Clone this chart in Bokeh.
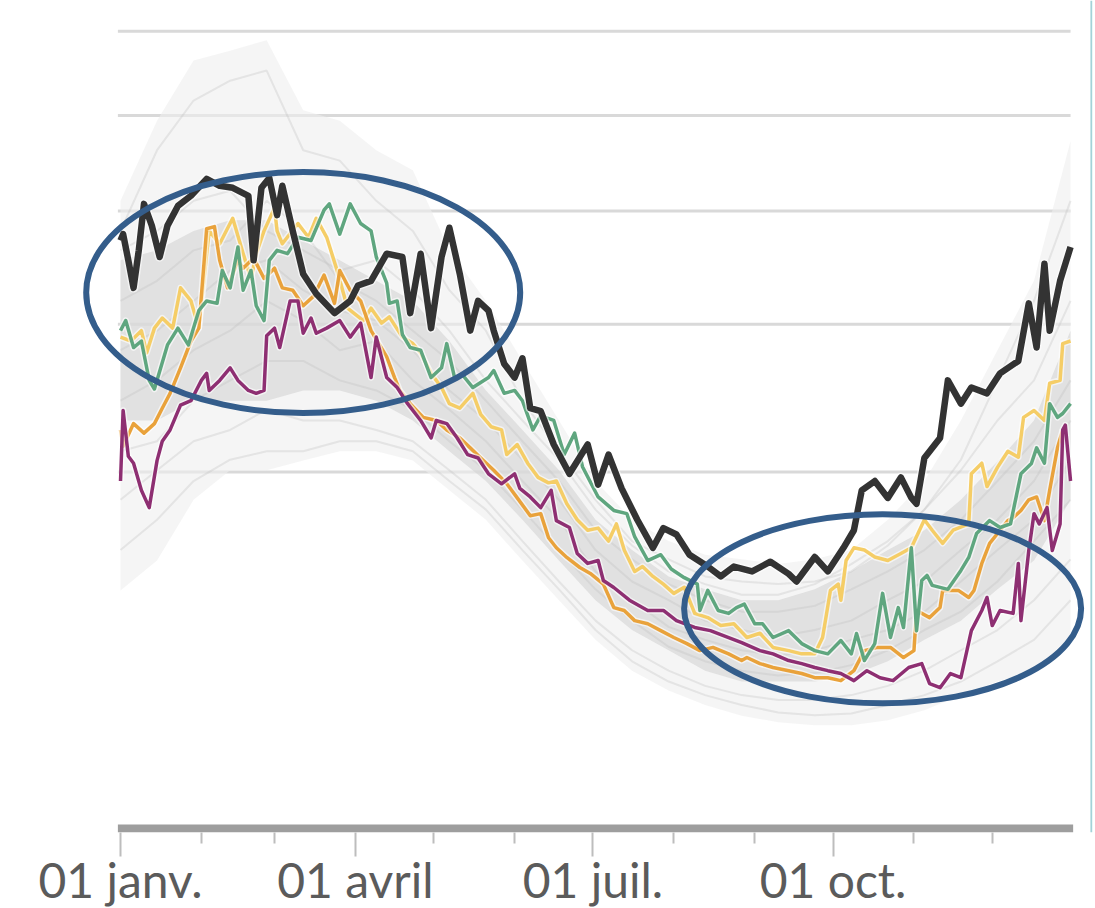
import numpy as np
import pandas as pd
from bokeh.plotting import figure
from bokeh.models import Range1d, FixedTicker, CustomJSTickFormatter, Span
from bokeh.embed import file_html
from bokeh.resources import INLINE

# ---------------- data ----------------
year_start = "2021-01-01"
major_tick_dates = ["2021-01-01", "2021-04-01", "2021-07-01", "2021-10-01"]
minor_tick_dates = ["2021-02-01", "2021-03-01", "2021-05-01", "2021-06-01",
                    "2021-08-01", "2021-09-01", "2021-11-01", "2021-12-01"]
tick_labels = ["01 janv.", "01 avril", "01 juil.", "01 oct."]
grid_values = [100, 200, 300, 400, 500]

black_days = [0, 1, 3, 5, 7, 9, 12, 15, 18, 22, 27, 33, 38, 43, 49, 51, 54, 57, 60, 62,
              66, 70, 75, 82, 88, 91, 96, 102, 108, 111, 115, 119, 123, 126, 130, 134, 137, 141, 143, 147,
              151, 154, 157, 161, 166, 172, 179, 183, 187, 192, 198, 204, 208, 213, 218, 225, 230, 235, 242, 249,
              256, 259, 266, 271, 277, 281, 284, 289, 294, 299, 303, 305, 308, 314, 317, 322, 326, 332, 337, 344,
              348, 351, 354, 356, 360, 364]
black_vals = [272, 278, 254, 230, 263, 307, 286, 257, 286, 305, 315, 332, 325, 323, 315, 254, 323, 333, 296, 325,
              281, 242, 225, 209, 219, 232, 236, 260, 257, 209, 260, 197, 257, 284, 242, 195, 219, 211, 195, 170,
              160, 174, 139, 137, 116, 99, 116, 93, 110, 91, 75, 62, 71, 68, 59, 54, 50, 54, 52, 56,
              51, 48, 58, 52, 62, 70, 90, 95, 86, 97, 86, 83, 108, 120, 158, 142, 153, 149, 163, 172,
              217, 182, 251, 195, 236, 266]

green_days = [0, 2, 5, 8, 11, 13, 18, 22, 26, 30, 33, 37, 39, 42, 45, 47, 50, 52, 55, 57,
              60, 64, 68, 73, 78, 80, 84, 88, 92, 96, 98, 102, 103, 106, 108, 111, 115, 119, 123, 125,
              128, 131, 135, 141, 143, 147, 151, 154, 158, 161, 166, 170, 174, 177, 183, 189, 194, 197, 202, 207,
              211, 216, 221, 222, 225, 229, 233, 236, 239, 243, 246, 250, 256, 261, 266, 271, 276, 280, 282, 285,
              289, 292, 295, 298, 300, 303, 305, 307, 309, 311, 317, 322, 325, 328, 333, 337, 341, 345, 349, 351,
              354, 356, 359, 361, 364]
green_vals = [195, 203, 182, 187, 158, 152, 184, 197, 184, 211, 219, 217, 245, 230, 266, 228, 245, 215, 203, 254,
              263, 260, 275, 272, 301, 307, 278, 307, 288, 281, 257, 234, 217, 219, 192, 182, 180, 160, 167, 185,
              160, 162, 153, 160, 165, 149, 151, 144, 125, 134, 131, 110, 123, 103, 86.5, 79.6, 78, 67, 56.5, 59,
              53, 49.5, 47, 37.4, 44.6, 37.4, 36.4, 38.4, 39.6, 33, 33, 28.7, 30.8, 26.9, 24.9, 24, 27.8, 24, 29.9, 22.2,
              26.9, 43.5, 28.7, 38.4, 31.8, 62, 30.8, 48.4, 50.4, 46.5, 45, 52.4, 57.8, 68.5, 74.6, 71.3, 73, 99, 104.8, 114,
              105, 142, 133, 135.5, 142]

yellow_days = [0, 4, 8, 10, 13, 16, 20, 23, 27, 30, 33, 34, 38, 43, 47, 50, 52, 55, 59, 60,
               62, 68, 72, 75, 79, 83, 87, 93, 96, 100, 103, 108, 112, 115, 119, 123, 126, 130, 135, 138,
               142, 146, 148, 152, 156, 160, 164, 167, 171, 175, 179, 183, 187, 190, 193, 197, 200, 204, 208, 212,
               216, 220, 225, 230, 235, 240, 245, 250, 256, 261, 266, 269, 272, 275, 276, 278, 281, 285, 289, 294,
               299, 303, 308, 311, 315, 319, 325, 326, 330, 332, 336, 340, 344, 346, 350, 354, 356, 360, 361, 364]
yellow_vals = [190, 187, 195, 178, 197, 205, 197, 230, 219, 197, 260, 281, 269, 293, 260, 238, 260, 281, 303, 281,
               269, 288, 275, 293, 275, 245, 213, 203, 213, 201, 206, 190, 185, 178, 163, 153, 142, 139, 149, 135,
               127, 125, 110, 116, 105, 97, 94, 95, 83, 75, 70, 71, 65, 73, 61, 52, 54, 50, 47, 43.5,
               45.8, 36.4, 35, 32.4, 33, 28.7, 30, 25.8, 24.9, 24, 24, 28.7, 44.6, 47, 41, 56.5, 62, 61, 58, 56.5,
               59.5, 62, 75, 70, 64, 70, 73, 99, 105, 92, 102.6, 112, 108.5, 133, 137.5, 131, 156, 158, 185, 187]

orange_days = [0, 1, 5, 9, 13, 16, 19, 23, 27, 30, 32, 33, 36, 38, 41, 45, 47, 51, 55, 59,
               62, 66, 70, 74, 78, 82, 84, 88, 92, 96, 102, 105, 107, 111, 116, 121, 125, 130, 134, 138,
               143, 148, 152, 157, 161, 164, 167, 171, 176, 180, 185, 189, 193, 197, 202, 207, 212, 217, 222, 227,
               233, 238, 240, 245, 250, 256, 261, 266, 271, 276, 281, 285, 290, 295, 300, 304, 305, 310, 314, 315,
               321, 325, 327, 330, 333, 337, 340, 342, 345, 348, 351, 354, 356, 359, 361]
orange_vals = [125, 115, 129, 123, 129, 139, 149, 167, 187, 197, 252, 283, 285, 254, 230, 254, 247, 256, 238, 247,
               230, 228, 215, 223, 241, 217, 245, 228, 219, 195, 175, 160, 151, 142, 133, 131, 125, 120, 114, 108,
               101, 93.5, 86, 77, 78, 66.5, 62, 57.8, 53.6, 51.2, 47, 38.4, 37.4, 34, 33, 30.8, 28.7, 26.9, 24.9, 25.8,
               24, 22.2, 23, 21.4, 20.4, 19.6, 18.9, 17.9, 17.9, 17.2, 19.6, 24.9, 25.8, 25.8, 23, 24.9, 37.4, 35, 38.4, 44.6,
               44.6, 42, 44.6, 55.3, 64, 70, 74.6, 76, 79.6, 85, 86.5, 74.6, 90, 114, 125]

purple_days = [0, 1, 3, 5, 8, 11, 14, 16, 19, 23, 27, 31, 33, 34, 38, 42, 45, 49, 52, 55,
               56, 59, 61, 65, 68, 70, 73, 75, 79, 84, 88, 92, 96, 98, 102, 106, 110, 115, 119, 121,
               125, 129, 133, 137, 141, 146, 151, 153, 157, 161, 165, 167, 172, 175, 179, 183, 185, 189, 195, 202,
               208, 213, 220, 226, 233, 238, 245, 250, 256, 261, 266, 271, 276, 281, 286, 291, 296, 302, 307, 310,
               314, 318, 322, 326, 330, 332, 334, 337, 342, 344, 345, 348, 350, 352, 355, 357, 360, 361, 362, 364]
purple_vals = [95, 137.5, 109, 105, 90, 81, 106.5, 118, 125, 141, 144, 158, 163, 151, 158, 167, 158, 151, 149, 151,
               191, 197, 182, 219, 219, 193, 205, 193, 197, 203, 190, 201, 160, 190, 160, 153, 142, 131, 120, 131,
               129, 120, 110, 108, 99, 93.5, 99, 91, 86.5, 81, 90, 74.6, 71.3, 59.5, 55.3, 56.5, 48.4, 45.7, 41, 37.4,
               37.4, 34, 31.8, 30.8, 28.7, 27.2, 24.9, 24, 22.2, 21.4, 20.4, 19.6, 18.9, 17.2, 19.6, 17.9, 17.2, 20.4, 21.4, 16.5,
               15.6, 18.9, 17.9, 30.8, 37.4, 42, 32.4, 37.4, 36.4, 55.3, 34, 60.8, 78, 73, 81, 60.8, 73, 125, 128, 95]

# other years (grey spaghetti), sampled every two weeks
gray_days = [0, 14, 28, 42, 56, 70, 84, 98, 112, 126, 140, 154, 168, 182,
             196, 210, 224, 238, 252, 266, 280, 294, 308, 322, 336, 350, 364]
gray_env_high = [310, 394, 464, 476, 489, 406, 394, 362, 341, 263, 219, 172, 131, 95,
                 75, 65, 59, 57, 55, 57, 61, 75, 95, 131, 180, 236, 372]
gray_env_low = [44.6, 56.5, 85, 101, 101, 106.5, 112, 112, 106.5, 90, 75, 56.5, 41, 28,
                19.6, 15, 12, 10, 8.9, 8.4, 8.4, 9.2, 11, 14, 17, 19.6, 28]
gray_core_high = [254, 263, 281, 291, 291, 272, 254, 236, 219, 187, 151, 125, 101, 75,
                  61, 50, 45, 41, 41, 45, 52, 61, 70, 85, 106, 131, 195]
gray_core_low = [131, 131, 144, 144, 144, 151, 151, 144, 131, 112, 95, 75, 56.5, 41,
                 31, 25, 19.6, 17, 17, 17, 18.4, 22, 28, 34, 45, 56.5, 85]
gray_run_1 = [263, 281, 310, 320, 281, 263, 245, 254, 228, 195, 158, 131, 107, 80,
              63, 52, 47, 43, 43, 47, 55, 65, 80, 101, 131, 158, 219]
gray_run_2 = [219, 236, 263, 272, 310, 281, 236, 219, 195, 172, 144, 118, 95, 70,
              57, 47, 41, 37, 37, 39, 45, 52, 61, 75, 95, 118, 158]
gray_run_3 = [180, 195, 219, 245, 254, 228, 211, 203, 180, 151, 131, 107, 85, 61,
              48, 41, 34, 31, 29, 31, 34, 41, 48, 61, 75, 95, 131]
gray_run_4 = [144, 158, 180, 195, 219, 203, 180, 187, 158, 138, 118, 95, 75, 52,
              41, 32, 28, 25, 23.5, 25, 28, 31, 37, 48, 61, 75, 107]
gray_run_5 = [112, 118, 144, 158, 172, 172, 158, 151, 138, 118, 101, 80, 61, 45,
              34, 26, 22, 19.6, 18.4, 19, 21, 25, 31, 37, 48, 65, 85]
gray_run_6 = [85, 101, 118, 125, 138, 131, 131, 125, 118, 101, 85, 65, 48, 34,
              25, 19.6, 16, 14, 13, 13, 14, 16, 19.6, 25, 31, 41, 57]
gray_run_7 = [281, 362, 417, 440, 452, 362, 351, 310, 281, 228, 195, 144, 112, 85,
              65, 57, 50, 48, 47, 48, 52, 63, 80, 107, 158, 219, 310]
gray_run_8 = [61, 75, 95, 107, 112, 112, 118, 118, 112, 95, 80, 61, 45, 31,
              22, 17, 14, 12, 10.6, 10.1, 10.4, 12, 14, 17, 22, 28, 41]

highlight_dates = ["2021-03-12", "2021-10-20"]
highlight_values = [226, 38]

# ---------------- helpers ----------------
t0 = pd.Timestamp(year_start)


def xs(days):
    return [t0 + pd.Timedelta(days=float(d)) for d in days]


def ys(vals):
    return np.sqrt(np.asarray(vals, dtype=float))  # square-root value scale


def ms(ts):
    return float(pd.Timestamp(ts).value // 10**6)


PX_PER_DAY = 2.61
FRAME_W, FRAME_H = 1017, 832
LEFT, TOP = 75, 0
x_start = t0 - pd.Timedelta(days=45 / PX_PER_DAY)
x_end = x_start + pd.Timedelta(days=FRAME_W / PX_PER_DAY)
PX_PER_ROOT = 35.65
y_start = -4 / PX_PER_ROOT
y_end = 828 / PX_PER_ROOT

p = figure(frame_width=FRAME_W, frame_height=FRAME_H,
           x_axis_type="datetime", y_axis_location=None,
           x_range=Range1d(x_start, x_end), y_range=Range1d(y_start, y_end),
           output_backend="svg", toolbar_location=None,
           min_border_left=LEFT, min_border_right=3, min_border_top=TOP, min_border_bottom=76)
p.outline_line_color = None
p.grid.visible = False
p.background_fill_color = "white"
p.border_fill_color = "white"

# horizontal guide lines
first_day = t0 - pd.Timedelta(days=1)
last_day = t0 + pd.Timedelta(days=364)
p.segment(x0=[first_day] * len(grid_values), x1=[last_day] * len(grid_values),
          y0=ys(grid_values), y1=ys(grid_values), line_color="#d9d9d9", line_width=3)

# grey spaghetti of other years
gx = xs(gray_days)
p.varea(x=gx, y1=ys(gray_env_low), y2=ys(gray_env_high), fill_color="#efefef", fill_alpha=0.6)
p.varea(x=gx, y1=ys(gray_core_low), y2=ys(gray_core_high), fill_color="#cfcfcf", fill_alpha=0.55)
for run in [gray_run_1, gray_run_2, gray_run_3, gray_run_4, gray_run_5, gray_run_6, gray_run_7, gray_run_8]:
    p.line(gx, ys(run), line_color="#bdbdbd", line_alpha=0.3, line_width=2)

# highlighted years
series = [
    (yellow_days, yellow_vals, "#f5cd66", 3.5),
    (orange_days, orange_vals, "#e9a23b", 3.5),
    (purple_days, purple_vals, "#8e2f72", 3.5),
    (green_days, green_vals, "#5fa67f", 3.5),
    (black_days, black_vals, "#333333", 6.5),
]
for d, v, c, w in series:
    p.line(xs(d), ys(v), line_color="white", line_alpha=0.6, line_width=w + 3, line_join="round")
    p.line(xs(d), ys(v), line_color=c, line_width=w, line_join="round")

# ellipses highlighting two periods
p.ellipse(x=[pd.Timestamp(d) for d in highlight_dates], y=ys(highlight_values),
          width=[434, 397], height=[241, 189], width_units="screen", height_units="screen",
          fill_color=None, line_color="#345d8b", line_width=6)

# axis bar
p.segment(x0=[first_day], x1=[t0 + pd.Timedelta(days=365)], y0=[0], y1=[0],
          line_color="#9e9e9e", line_width=8)

# right edge rule
p.add_layout(Span(location=ms(t0 + pd.Timedelta(days=372)), dimension="height",
                  line_color="#a3d2d8", line_width=2))

ax = p.xaxis[0]
major_ms = [ms(d) for d in major_tick_dates]
ax.ticker = FixedTicker(ticks=major_ms, minor_ticks=[ms(d) for d in minor_tick_dates])
ax.formatter = CustomJSTickFormatter(args=dict(label_ticks=major_ms, label_texts=tick_labels), code="""
for (let i = 0; i < label_ticks.length; i++) {
  if (Math.abs(label_ticks[i] - tick) < 1000) { return label_texts[i]; }
}
return "";
""")
ax.axis_line_color = None
ax.major_tick_line_color = "#bdbdbd"
ax.major_tick_line_width = 2
ax.major_tick_in = 0
ax.major_tick_out = 24
ax.minor_tick_line_color = "#bdbdbd"
ax.minor_tick_line_width = 2
ax.minor_tick_in = 0
ax.minor_tick_out = 11
ax.major_label_text_font = "Lato"
ax.major_label_text_font_size = "48px"
ax.major_label_text_color = "#5b5b5b"
ax.major_label_standoff = -6

open("out.html", "w").write(file_html(p, INLINE))
